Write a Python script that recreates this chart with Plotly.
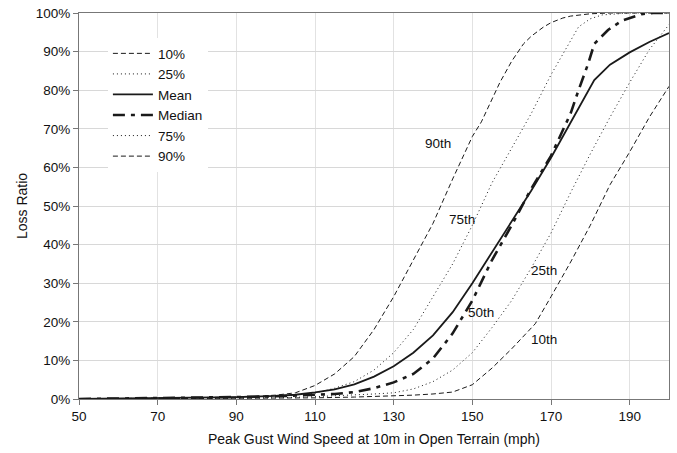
import plotly.graph_objects as go

# ---- data ----
x_p90 = [50, 60, 70, 80, 90, 95, 100, 105, 110, 115, 120, 125, 130, 135, 140, 145, 150, 152.3, 155, 157, 160, 163, 165, 168, 170, 173, 175, 180, 185, 200]
y_p90 = [0, 0.1, 0.2, 0.3, 0.5, 0.7, 1.0, 1.6, 3.5, 6.5, 11, 18, 26.5, 36, 45.5, 57, 68, 71.8, 77.6, 82, 87.5, 92, 94, 96.3, 97.5, 98.7, 99.2, 99.8, 100, 100]

x_p75 = [50, 70, 90, 100, 110, 115, 120, 125, 130, 135, 140, 145, 150, 155, 160, 165, 170, 175, 177, 180, 183, 190, 200]
y_p75 = [0, 0.1, 0.3, 0.6, 1.5, 2.8, 4.5, 7.5, 12, 18, 26.5, 35, 45, 56, 65, 74, 84, 93, 96.4, 98.5, 99.5, 100, 100]

x_mean = [50, 70, 90, 100, 105, 110, 115, 120, 125, 130, 135, 140, 145, 150, 155, 160, 165, 170, 175, 178, 181, 185, 190, 195, 200]
y_mean = [0, 0.2, 0.5, 0.8, 1.1, 1.7, 2.5, 3.8, 5.8, 8.5, 12, 16.5, 22.5, 30, 38, 46, 54, 62.5, 71.5, 77, 82.6, 86.6, 89.8, 92.5, 94.8]

x_median = [50, 70, 90, 100, 110, 115, 120, 125, 130, 135, 140, 145, 150, 155, 160, 165, 170, 175, 177, 179.5, 181, 184.5, 188, 193, 196, 200]
y_median = [0, 0.2, 0.5, 0.7, 1.0, 1.3, 1.8, 2.8, 4.3, 6.5, 10.5, 17, 25.5, 36, 45, 54.5, 63, 74, 80, 87, 92, 95.6, 98, 99.7, 100, 100]

x_p25 = [50, 80, 100, 110, 120, 125, 130, 135, 140, 145, 150, 155, 160, 165, 170, 175, 180, 185, 190, 195, 200]
y_p25 = [0, 0.1, 0.3, 0.6, 1.0, 1.3, 1.6, 2.6, 4.5, 7.5, 12, 18.5, 25.5, 34, 43, 53.5, 63.5, 73, 82, 90.5, 97]

x_p10 = [50, 100, 110, 120, 130, 135, 140, 145, 150, 155, 160, 164, 166, 170, 175, 180, 185, 190, 195, 200]
y_p10 = [0, 0.2, 0.3, 0.5, 0.8, 1.0, 1.3, 1.8, 3.7, 8, 13, 17.4, 19.5, 26.5, 35.5, 45, 55.5, 64, 73, 81]

labels = ["90th", "75th", "50th", "25th", "10th"]
label_x = [141.3, 147.4, 152.3, 168.1, 168.1]
label_y = [0.661, 0.466, 0.223, 0.332, 0.155]

x_ticks = [50, 70, 90, 110, 130, 150, 170, 190]
y_ticks = [0, 0.1, 0.2, 0.3, 0.4, 0.5, 0.6, 0.7, 0.8, 0.9, 1.0]

def pct(v):
    return [a / 100 for a in v]

LC = "#1a1a1a"
fig = go.Figure()
series = [
    ("10%", x_p10, y_p10, dict(color=LC, width=1, dash="5px,3px")),
    ("25%", x_p25, y_p25, dict(color=LC, width=1, dash="1px,3px")),
    ("Mean", x_mean, y_mean, dict(color=LC, width=1.8)),
    ("Median", x_median, y_median, dict(color=LC, width=2.6, dash="12px,6px,4px,6px")),
    ("75%", x_p75, y_p75, dict(color=LC, width=1, dash="1px,3px")),
    ("90%", x_p90, y_p90, dict(color=LC, width=1, dash="5px,3px")),
]
for name, xs, ys, ln in series:
    fig.add_trace(go.Scatter(x=xs, y=pct(ys), name=name, mode="lines", line=ln))

for t, ax, ay in zip(labels, label_x, label_y):
    fig.add_annotation(x=ax, y=ay, text=t, showarrow=False,
                       font=dict(size=13.5, color="#111"))

fig.update_layout(
    width=677, height=453,
    margin=dict(l=79, r=8, t=13, b=54),
    paper_bgcolor="white", plot_bgcolor="white",
    font=dict(family="Liberation Sans, Arial, sans-serif", size=13.5, color="#111"),
    legend=dict(x=0.049, y=0.935, xanchor="left", yanchor="top",
                bgcolor="white", font=dict(size=13.5), tracegroupgap=0,
                itemwidth=40),
    showlegend=True,
)
fig.update_xaxes(range=[50, 200], tickvals=x_ticks, ticks="outside", ticklen=5,
                 tickcolor="#777", showline=True, linecolor="#777", linewidth=1,
                 mirror=True, showgrid=True, gridcolor="#e2e2e2", gridwidth=1,
                 zeroline=False, automargin=False,
                 title=dict(text="Peak Gust Wind Speed at 10m in Open Terrain (mph)",
                            standoff=10, font=dict(size=14)))
fig.update_yaxes(range=[0, 1], tickvals=y_ticks, tickformat=".0%", ticks="outside",
                 ticklen=5, tickcolor="#777", showline=True, linecolor="#777",
                 linewidth=1, mirror=True, showgrid=True, gridcolor="#d8d8d8",
                 zeroline=False, automargin=False,
                 title=dict(text="Loss Ratio", standoff=4, font=dict(size=14)))

fig.write_html("out.html", config={"displayModeBar": False},
               post_script="document.body.style.margin='0';document.body.style.overflow='hidden';")
